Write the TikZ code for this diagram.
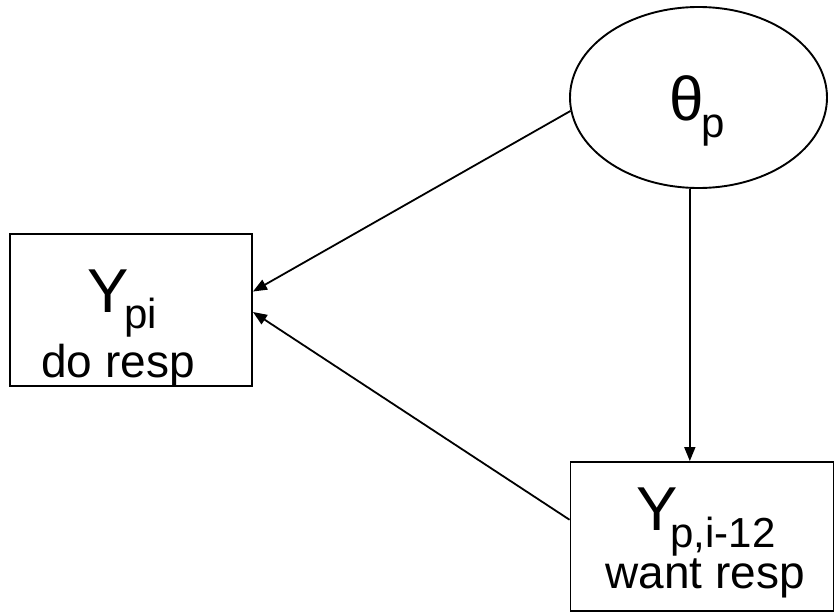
\documentclass[tikz,border=0pt]{standalone}
\usepackage{fontspec}
\setmainfont{Liberation Sans}
\usetikzlibrary{shapes.geometric,arrows.meta,calc}
\tikzset{
  obsbox/.style={draw,line width=1.9pt,rectangle,inner sep=0pt},
  latent/.style={draw,line width=1.9pt,ellipse,inner sep=0pt},
  lbl/.style={inner sep=0pt,anchor=base west},
  lblc/.style={inner sep=0pt,anchor=base},
  conn/.style={line width=1.8pt,-{Triangle[length=14pt,width=11pt]}}
}
\newcommand{\bigf}{\fontsize{62}{62}\selectfont}
\newcommand{\subf}{\fontsize{42}{42}\selectfont}
\newcommand{\midf}{\fontsize{46}{46}\selectfont}
\begin{document}
\begin{tikzpicture}[x=1pt,y=-1pt]
\useasboundingbox (0,0) rectangle (835,613);
\node[latent,minimum width=257pt,minimum height=181pt] (th) at (698.5,97.5) {};
\node[obsbox,minimum width=242pt,minimum height=152pt] (b1) at (131,310) {};
\node[obsbox,minimum width=263pt,minimum height=149pt] (b2) at (702,536.5) {};
\node[lbl] (t1) at (669,120) {\bigf θ\kern-2pt\raisebox{-17pt}{\subf p}};
\node[lbl] (y1) at (87,312) {\bigf Y\kern-4pt\raisebox{-16pt}{\subf pi}};
\node[lblc] (d1) at (118,377) {\midf do resp};
\node[lbl] (y2) at (636,530) {\bigf Y\kern-7pt\raisebox{-17pt}{\subf p,i-12}};
\node[lblc] (d2) at (705,588) {\midf want resp};
\coordinate (a1) at ($(b1.north east)!0.38!(b1.south east)$);
\coordinate (a2) at ($(b1.north east)!0.513!(b1.south east)$);
\coordinate (s2) at ($(b2.north west)!0.389!(b2.south west)$);
\coordinate (v) at ($(b2.north west)!0.454!(b2.north east)$);
\draw[conn] (th.186.9) -- (a1);
\draw[conn] (s2) -- (a2);
\draw[conn] (th.south -| v) -- (v);
\end{tikzpicture}
\end{document}
